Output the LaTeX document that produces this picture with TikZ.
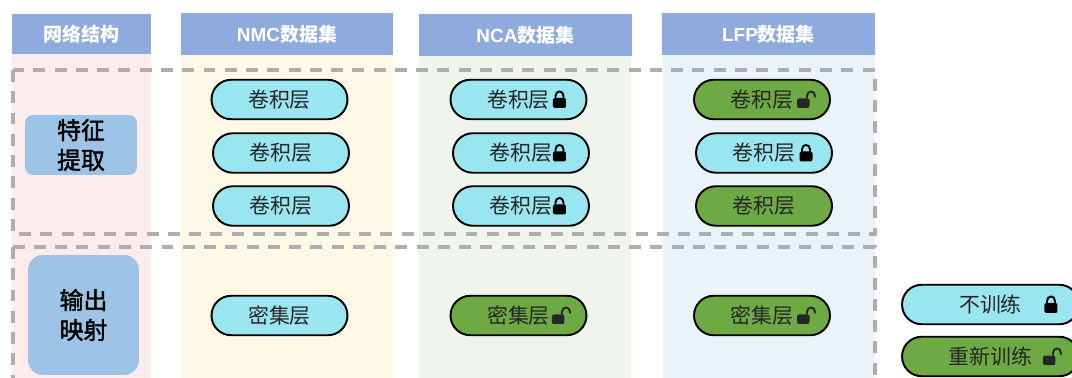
\documentclass[tikz,border=0pt]{standalone}
\usepackage{fontspec}
\setmainfont{Liberation Sans}
\newfontfamily\cjk{Noto Sans CJK SC}
\newfontfamily\cjkstage[FakeBold=1.6]{Noto Sans CJK SC}
\usetikzlibrary{calc}
\usetikzlibrary{positioning}
\usetikzlibrary{shapes.misc}
\definecolor{headblue}{HTML}{8FAADC}
\definecolor{stepblue}{HTML}{9DC3E6}
\definecolor{frozen}{HTML}{9AE6F0}
\definecolor{retrain}{HTML}{6EAA43}
\definecolor{dashgray}{HTML}{AEAEAE}
\definecolor{bgpink}{HTML}{FDECEC}
\definecolor{bgcream}{HTML}{FFF8E6}
\definecolor{bggreen}{HTML}{EFF5EC}
\definecolor{bgblue}{HTML}{EBF3FA}

\begin{document}
\begin{tikzpicture}[
    x=0.02cm, y=-0.02cm,
    header/.style={fill=headblue, text=white, minimum width=4.26cm, minimum height=0.84cm,
      inner sep=0pt, font=\fontsize{10.8pt}{13pt}\selectfont\bfseries},
    stageframe/.style={draw=dashgray, line width=1.75pt, dash pattern=on 6.8pt off 5.3pt},
    stagebox/.style={fill=stepblue, align=center, inner sep=0pt, minimum width=2.24cm,
      font=\fontsize{13.6pt}{17pt}\selectfont\cjkstage},
    layerbox/.style={draw=black, line width=1.1pt, rounded rectangle, inner sep=0pt,
      minimum width=2.72cm, minimum height=0.79cm,
      font=\fontsize{11.9pt}{14pt}\selectfont\cjk, text=black!85},
    keep/.style={layerbox, fill=frozen},
    train/.style={layerbox, fill=retrain},
    lockshut/.pic={
      \fill [black, rounded corners=0.4mm] (-6.5,-1.5) rectangle (6.5,8.5);
      \draw [black, line width=1.1pt] (-4,-1) -- (-4,-3.5)
      .. controls (-4,-9.5) and (4,-9.5) .. (4,-3.5) -- (4,-1);
    },
    lockopen/.pic={
      \fill [black!85, rounded corners=0.4mm] (-8,-1) rectangle (4.5,8.5);
      \draw [black!85, line width=1.1pt] (2,-1) -- (2,-3.5)
      .. controls (2,-9.5) and (10,-9.5) .. (10,-3.5) -- (10,-2);
    }]

    \useasboundingbox (0, 0) rectangle (1072, 378);

    % columns
    \fill [bgpink] (12, 54) rectangle (151, 378);
    \fill [bgcream] (181, 55) rectangle (393, 378);
    \fill [bggreen] (419, 56) rectangle (631, 378);
    \fill [bgblue] (663, 55) rectangle (875, 378);

    \node [header, minimum width=2.78cm, minimum height=0.8cm] (headnet) at (81.5, 34) {\cjk 网络结构};
    \node [header] (headnmc) at (287, 34) {NMC{\cjk 数据集}};
    \node [header] (headnca) at (525.5, 35) {NCA{\cjk 数据集}};
    \node [header] (headlfp) at (768.5, 34) {LFP{\cjk 数据集}};

    % stages
    \draw [stageframe] (13, 70) rectangle (875, 234);
    \draw [stageframe] (13, 247) rectangle (875, 390);

    \node [stagebox, minimum height=1.2cm, rounded corners=1.6mm] (extract) at (81, 145) {特征\\提取};
    \node [stagebox, minimum width=2.22cm, minimum height=2.4cm, rounded corners=3mm] (mapping) at (83.5, 315) {输出\\映射};

    % NMC
    \node [keep] (nmca) at (279.5, 99.5) {卷积层};
    \node [keep] (nmcb) at (281, 153) {卷积层};
    \node [keep] (nmcc) at (281, 206) {卷积层};
    \node [keep] (nmcd) at (279.5, 315.5) {密集层};

    % NCA
    \node [keep] (ncaa) at (518.5, 99.5) {卷积层};
    \node [keep] (ncab) at (521, 153) {卷积层};
    \node [keep] (ncac) at (521, 206) {卷积层};
    \node [train] (ncad) at (518.5, 315.5) {密集层};
    \pic at ([xshift=0.82cm]ncaa.center) {lockshut};
    \pic at ([xshift=0.77cm]ncab.center) {lockshut};
    \pic at ([xshift=0.77cm]ncac.center) {lockshut};
    \pic at ([xshift=0.83cm]ncad.center) {lockopen};

    % LFP
    \node [train] (lfpa) at (762, 99.5) {卷积层};
    \node [keep] (lfpb) at (764, 153) {卷积层};
    \node [train] (lfpc) at (764, 206) {卷积层};
    \node [train] (lfpd) at (762, 315.5) {密集层};
    \pic at ([xshift=0.86cm]lfpa.center) {lockopen};
    \pic at ([xshift=0.84cm]lfpb.center) {lockshut};
    \pic at ([xshift=0.86cm]lfpd.center) {lockopen};

    % legend
    \node [keep, minimum width=3.54cm] (keepkey) at (990.5, 304.5) {不训练};
    \node [train, minimum width=3.54cm] (trainkey) at (990.5, 356.5) {重新训练};
    \pic at ([xshift=1.21cm]keepkey.center) {lockshut};
    \pic at ([xshift=1.21cm]trainkey.center) {lockopen};

  \end{tikzpicture}
\end{document}
